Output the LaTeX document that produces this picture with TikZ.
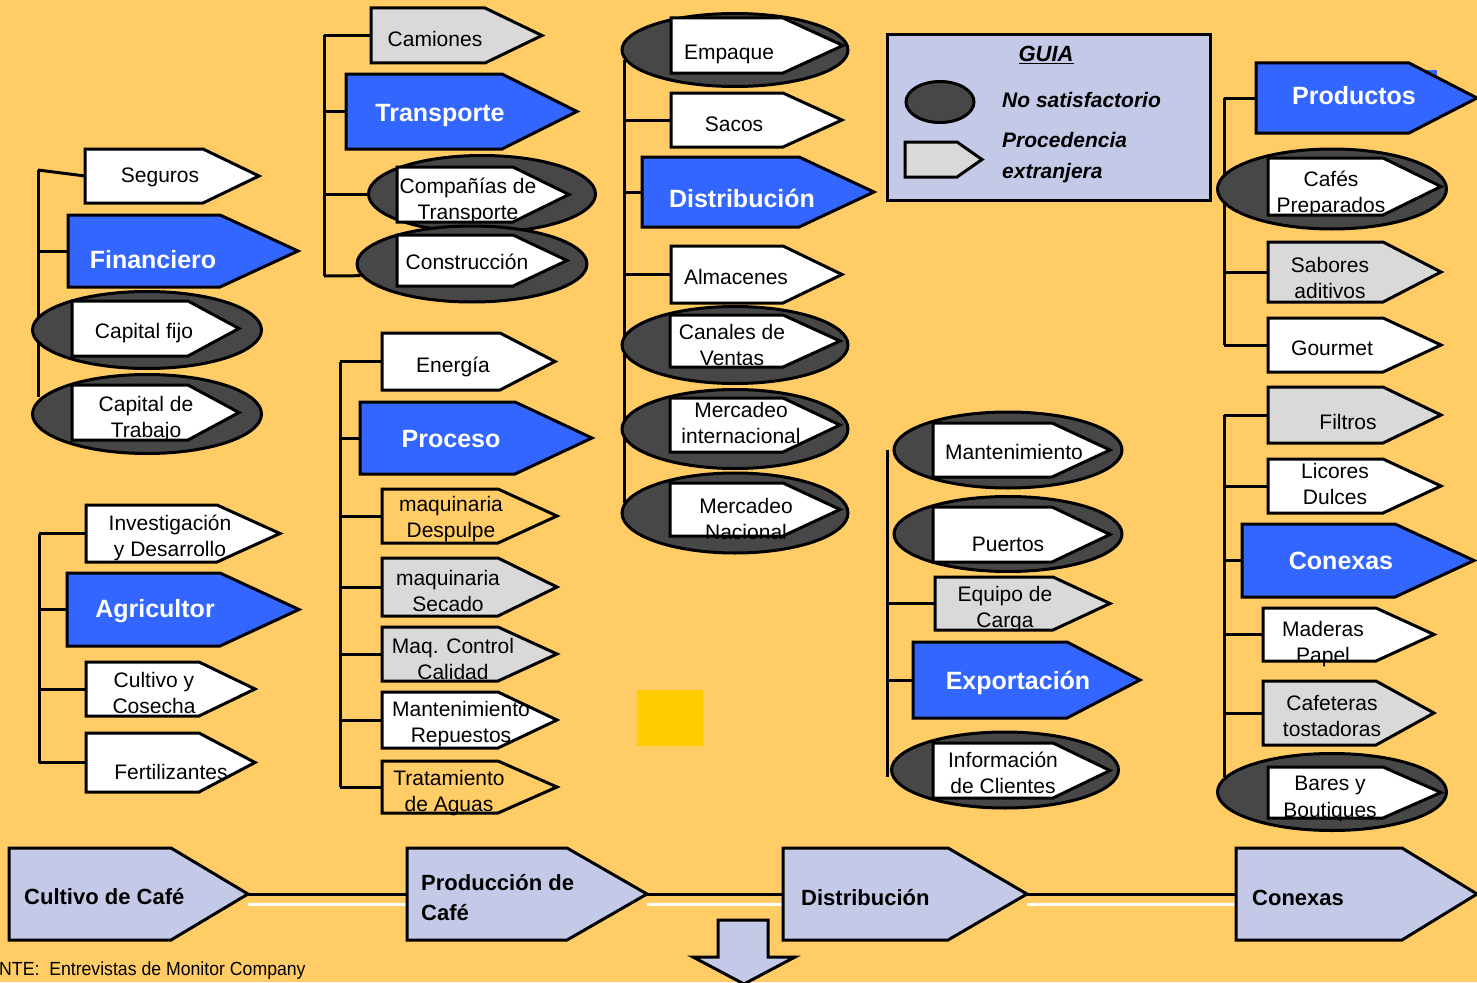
\documentclass[tikz,border=0pt]{standalone}
\usepackage{fontspec}
\setmainfont{Liberation Sans}
\usetikzlibrary{shapes.geometric}

\definecolor{bgorange}{HTML}{FFCC66}
\definecolor{hdrblue}{HTML}{3366FF}
\definecolor{boxgray}{HTML}{D9D9D9}
\definecolor{ellfill}{HTML}{474747}
\definecolor{lav}{HTML}{C5C9E8}
\definecolor{spot}{HTML}{FFCC00}

\pgfdeclarelayer{back}
\pgfdeclarelayer{lines}
\pgfsetlayers{back,lines,main}

\tikzset{
  tagshape/.style={draw=black, line width=3pt, line join=miter},
  branch/.style={draw=black, line width=3pt},
  ell/.style={ellipse, draw=black, fill=ellfill, line width=3pt, inner sep=0pt},
  lbl/.style={font=\fontsize{21}{26.5}\selectfont, align=center, inner sep=0pt, text=black},
  hdr/.style={font=\fontsize{25}{30}\selectfont\bfseries, inner sep=0pt, text=white},
  chain/.style={font=\fontsize{22}{30}\selectfont\bfseries, align=left, anchor=west, inner sep=0pt},
  wbox/.style={tagshape, fill=white},      wbox text/.style={lbl},
  gbox/.style={tagshape, fill=boxgray},    gbox text/.style={lbl},
  obox/.style={tagshape, fill=bgorange},   obox text/.style={lbl},
  bbox/.style={tagshape, fill=hdrblue},    bbox text/.style={hdr},
  lbox/.style={tagshape, fill=lav},        lbox text/.style={chain},
}

% pointed label box: name, style, left x, top y, shoulder x, tip x, bottom y, text position, text
\newcommand\tagbox[9]{%
  \draw[#2] (#3,#4) -- (#5,#4) -- (#6,{(#4+#7)/2}) -- (#5,#7) -- (#3,#7) -- cycle;
  \node[inner sep=0pt, outer sep=0pt, minimum width={(#6-#3)*1pt},
        minimum height={(#7-#4)*1pt}, anchor=north west] (#1) at (#3,#4) {};
  \node[#2 text] (#1-label) at #8 {#9};
}

\begin{document}
\begin{tikzpicture}[x=1pt,y=-1pt]
\useasboundingbox (0,0) rectangle (1477,982);
\begin{pgfonlayer}{back}
  \fill[bgorange] (0,0) rectangle (1477,982);
\end{pgfonlayer}

% ---------------- Financiero ----------------
\tagbox{seguros}{wbox}{85}{149}{203}{259}{203}{(160,177)}{Seguros}
\tagbox{financiero}{bbox}{68}{215}{220}{298}{287}{(153,260)}{Financiero}
\node[ell, minimum width=229pt, minimum height=77pt] (capfijo-e) at (147,330) {};
\tagbox{capfijo}{wbox}{72}{301}{188}{239}{356}{(144,333)}{Capital fijo}
\node[ell, minimum width=229pt, minimum height=79pt] (captrab-e) at (147,414) {};
\tagbox{captrab}{wbox}{72}{385}{188}{239}{440}{(146,419)}{Capital de\\Trabajo}

% ---------------- Transporte ----------------
\tagbox{camiones}{gbox}{371}{8}{485}{542}{63}{(435,39)}{Camiones}
\tagbox{transporte}{bbox}{346}{74}{502}{577}{149}{(440,115)}{Transporte}
\node[ell, minimum width=227pt, minimum height=77pt] (comp-e) at (482,194) {};
\tagbox{comp}{wbox}{397}{167}{513}{569}{222}{(468,201)}{Compañías de\\Transporte}
\node[ell, minimum width=230pt, minimum height=76pt] (constr-e) at (472,264) {};
\tagbox{constr}{wbox}{397}{235}{513}{567}{286}{(467,262)}{Construcción}

% ---------------- Distribución ----------------
\node[ell, minimum width=226pt, minimum height=73pt] (empaque-e) at (735,50) {};
\tagbox{empaque}{wbox}{671}{18}{783}{843}{73}{(729,54)}{Empaque}
\tagbox{sacos}{wbox}{671}{93}{783}{842}{147}{(734,124)}{Sacos}
\tagbox{distrib}{bbox}{642}{157}{799}{874}{227}{(742,198)}{Distribución}
\tagbox{almac}{wbox}{671}{246}{783}{842}{303}{(736,277)}{Almacenes}
\node[ell, minimum width=226pt, minimum height=77pt] (canales-e) at (735,345) {};
\tagbox{canales}{wbox}{670}{315}{783}{840}{367}{(732,345)}{Canales de\\Ventas}
\node[ell, minimum width=226pt, minimum height=79pt] (mint-e) at (735,429) {};
\tagbox{mint}{wbox}{670}{398}{783}{840}{452}{(741,423)}{Mercadeo\\internacional}
\node[ell, minimum width=226pt, minimum height=80pt] (mnac-e) at (735,513) {};
\tagbox{mnac}{wbox}{670}{483}{783}{840}{536}{(746,519)}{Mercadeo\\Nacional}

% ---------------- Proceso ----------------
\tagbox{energia}{wbox}{382}{333}{500}{555}{390}{(453,367)}{Energía}
\tagbox{proceso}{bbox}{360}{402}{515}{592}{474}{(451,439)}{Proceso}
\tagbox{despulpe}{obox}{382}{489}{498}{557}{543}{(451,519)}{maquinaria\\Despulpe}
\tagbox{secado}{gbox}{382}{558}{498}{557}{616}{(448,591)}{maquinaria\\Secado}
\tagbox{control}{gbox}{382}{627}{498}{557}{681}{(453,659)}{Maq. Control\\Calidad}
\tagbox{manten}{wbox}{382}{692}{498}{557}{748}{(461,724)}{Mantenimiento\\Repuestos}
\tagbox{aguas}{obox}{382}{761}{498}{557}{813}{(449,793)}{Tratamiento\\de Aguas}

% ---------------- Agricultor ----------------
\tagbox{invest}{wbox}{86}{505}{217}{280}{562}{(170,538)}{Investigación\\y Desarrollo}
\tagbox{agric}{bbox}{67}{573}{220}{299}{646}{(155,611)}{Agricultor}
\tagbox{cultivo}{wbox}{86}{662}{199}{255}{716}{(154,693)}{Cultivo y\\Cosecha}
\tagbox{fertil}{wbox}{86}{733}{199}{255}{792}{(171,772)}{Fertilizantes}

% ---------------- Exportación ----------------
\node[ell, minimum width=228pt, minimum height=76pt] (mant-e) at (1008,450) {};
\tagbox{mant}{wbox}{933}{423}{1052}{1110}{477}{(1014,452)}{Mantenimiento}
\node[ell, minimum width=228pt, minimum height=75pt] (puertos-e) at (1008,534) {};
\tagbox{puertos}{wbox}{933}{507}{1052}{1110}{562}{(1008,544)}{Puertos}
\tagbox{equipo}{gbox}{935}{577}{1053}{1110}{630}{(1005,609)}{Equipo de\\Carga}
\tagbox{export}{bbox}{913}{642}{1067}{1140}{718}{(1018,683)}{Exportación}
\node[ell, minimum width=227pt, minimum height=76pt] (info-e) at (1005,770) {};
\tagbox{info}{wbox}{933}{743}{1053}{1110}{798}{(1003,773)}{Información\\de Clientes}

% ---------------- Legend ----------------
\node[draw=black, fill=lav, line width=3pt, minimum width=323pt, minimum height=165pt,
      anchor=north west, inner sep=0pt] (guia) at (885.5,33.5) {};
\node[font=\fontsize{22}{26}\selectfont\bfseries\itshape, inner sep=0pt] (guia-title) at (1046,55) {\underline{GUIA}};
\node[ell, minimum width=68pt, minimum height=41pt] (leg-ell) at (940,102) {};
\draw[gbox] (905,142) -- (957,142) -- (982,159.5) -- (957,177) -- (905,177) -- cycle;
\node[font=\fontsize{21}{26}\selectfont\bfseries\itshape, anchor=west, inner sep=0pt] (leg-no) at (1002,100) {No satisfactorio};
\node[font=\fontsize{21}{31}\selectfont\bfseries\itshape, anchor=west, inner sep=0pt, align=left] (leg-proc) at (1002,157.5) {Procedencia\\extranjera};

% ---------------- Productos ----------------
\fill[hdrblue] (1409,70) rectangle (1437,118);
\tagbox{productos}{bbox}{1256}{63}{1409}{1477}{133}{(1354,96)}{Productos}
\node[ell, minimum width=229pt, minimum height=80pt] (cafes-e) at (1332,189) {};
\tagbox{cafes}{wbox}{1268}{158}{1383}{1441}{215}{(1331,194)}{Cafés\\Preparados}
\tagbox{sabores}{gbox}{1268}{242}{1383}{1441}{302}{(1330,278)}{Sabores\\aditivos}
\tagbox{gourmet}{wbox}{1268}{318}{1383}{1441}{372}{(1332,348)}{Gourmet}

% ---------------- Conexas ----------------
\tagbox{filtros}{gbox}{1268}{387}{1383}{1441}{443}{(1348,422)}{Filtros}
\tagbox{licores}{wbox}{1268}{459}{1383}{1441}{513}{(1335,484)}{Licores\\Dulces}
\tagbox{conexas}{bbox}{1242}{524}{1395}{1474}{597}{(1341,561)}{Conexas}
\tagbox{maderas}{wbox}{1263}{608}{1376}{1434}{661}{(1323,644)}{Maderas\\Papel}
\tagbox{cafeteras}{gbox}{1263}{681}{1376}{1434}{745}{(1332,716)}{Cafeteras\\tostadoras}
\node[ell, minimum width=229pt, minimum height=77pt] (bares-e) at (1332,792) {};
\tagbox{bares}{wbox}{1268}{767}{1383}{1441}{818}{(1330,799)}{Bares y\\Boutiques}

% ---------------- value chain ----------------
\tagbox{cultivocafe}{lbox}{9}{848}{171}{248}{940}{(24,897)}{Cultivo de Café}
\tagbox{produccion}{lbox}{407}{848}{567}{647}{940}{(421,898)}{Producción de\\Café}
\tagbox{distribucion}{lbox}{783}{848}{948}{1027}{940}{(801,898)}{Distribución}
\tagbox{conexasb}{lbox}{1236}{848}{1402}{1477}{940}{(1252,898)}{Conexas}
\draw[tagshape, fill=lav] (718,920) -- (768,920) -- (768,957) -- (795,957) -- (744,984)
  -- (693,957) -- (718,957) -- cycle;
\fill[spot] (637,690) rectangle (703,746);
\node[anchor=west, inner sep=0pt, font=\fontsize{19}{22}\selectfont] (fuente) at (-1,971)
  {\scalebox{0.93}[1]{NTE:\ \ Entrevistas de Monitor Company}};

% ---------------- connectors ----------------
\coordinate (fin-top) at (38,170);   \coordinate (fin-bot) at (38,397);
\coordinate (tr-top) at (324,35);    \coordinate (tr-bot) at (324,276);
\coordinate (dist-top) at (624,60);  \coordinate (dist-bot) at (624,503);
\coordinate (pr-top) at (340,361.5); \coordinate (pr-bot) at (340,787);
\coordinate (ag-top) at (39,533.5);  \coordinate (ag-bot) at (39,762.5);
\coordinate (ex-top) at (887,450);   \coordinate (ex-bot) at (887,777);
\coordinate (pd-top) at (1224,98);   \coordinate (pd-bot) at (1224,345);
\coordinate (cx-top) at (1224,415);  \coordinate (cx-bot) at (1224,777);

\begin{pgfonlayer}{lines}
  \draw[branch] (fin-top) -- (fin-bot);
  \draw[branch] (fin-top) -- (seguros.west);
  \draw[branch] (fin-top |- financiero.west) -- (financiero.west);

  \draw[branch] (tr-top) -- (tr-bot);
  \draw[branch] (tr-top |- camiones.west) -- (camiones.west);
  \draw[branch] (tr-top |- transporte.west) -- (transporte.west);
  \draw[branch] (tr-top |- comp-e.west) -- (comp-e.west);
  \draw[branch] (tr-bot) -- (constr-e.186);

  \draw[branch] (dist-top) -- (dist-bot);
  \draw[branch] (dist-top |- sacos.west) -- (sacos.west);
  \draw[branch] (dist-top |- distrib.west) -- (distrib.west);
  \draw[branch] (dist-top |- almac.west) -- (almac.west);

  \draw[branch] (pr-top) -- (pr-bot);
  \foreach \n in {energia,proceso,despulpe,secado,control,manten,aguas}
    \draw[branch] (pr-top |- \n.west) -- (\n.west);

  \draw[branch] (ag-top) -- (ag-bot);
  \foreach \n in {invest,agric,cultivo,fertil}
    \draw[branch] (ag-top |- \n.west) -- (\n.west);

  \draw[branch] (ex-top) -- (ex-bot);
  \foreach \n in {equipo,export}
    \draw[branch] (ex-top |- \n.west) -- (\n.west);

  \draw[branch] (pd-top) -- (pd-bot);
  \foreach \n in {productos,sabores,gourmet}
    \draw[branch] (pd-top |- \n.west) -- (\n.west);

  \draw[branch] (cx-top) -- (cx-bot);
  \foreach \n in {filtros,licores,conexas,maderas,cafeteras}
    \draw[branch] (cx-top |- \n.west) -- (\n.west);

  % value chain links with their light underline
  \draw[branch] (cultivocafe.east) -- (produccion.west);
  \draw[branch] (produccion.east) -- (distribucion.west);
  \draw[branch] (distribucion.east) -- (conexasb.west);
  \draw[white, line width=3pt] ([yshift=-10pt]cultivocafe.east) -- ([yshift=-10pt]produccion.west);
  \draw[white, line width=3pt] ([yshift=-10pt]produccion.east) -- ([yshift=-10pt]distribucion.west);
  \draw[white, line width=3pt] ([yshift=-10pt]distribucion.east) -- ([yshift=-10pt]conexasb.west);
\end{pgfonlayer}
\end{tikzpicture}
\end{document}
